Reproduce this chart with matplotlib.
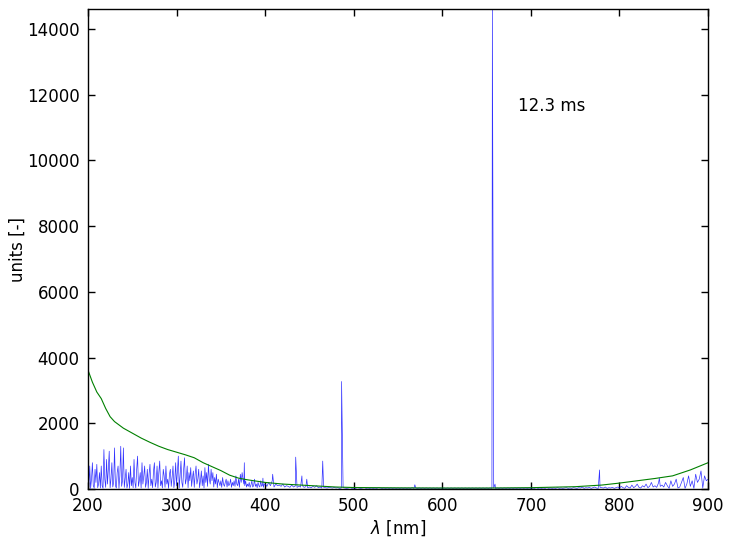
import numpy as np
import matplotlib
matplotlib.use("Agg")
import matplotlib.pyplot as plt

# Blue spectrum, part 1: 200-399 nm sampled every 1 nm
uv_start, uv_step = 200, 1
uv_vals = [
    1100, 50, 700, 20, 300, 800, 100, 30, 600, 200, 750, 40, 150, 500, 30, 700, 100, 20, 1200, 300,
    50, 900, 150, 600, 1150, 40, 300, 800, 60, 200, 1250, 100, 30, 500, 700, 20, 400, 1300, 80, 250,
    1250, 50, 300, 600, 30, 150, 500, 20, 700, 100, 350, 40, 900, 200, 30, 600, 1000, 80, 250, 500,
    30, 800, 150, 400, 700, 50, 200, 600, 20, 450, 750, 100, 300, 40, 550, 800, 60, 200, 700, 30,
    500, 850, 100, 250, 30, 600, 400, 50, 700, 150, 300, 20, 450, 600, 80, 350, 700, 40, 250, 800,
    100, 550, 1000, 30, 400, 850, 200, 50, 600, 950, 150, 300, 700, 40, 500, 250, 650, 80, 350, 550,
    50, 450, 700, 150, 300, 600, 40, 250, 550, 100, 400, 30, 650, 200, 500, 80, 750, 300, 150, 600,
    250, 500, 60, 350, 150, 450, 40, 300, 200, 100, 250, 50, 350, 150, 80, 200, 300, 60, 250, 100,
    150, 300, 50, 200, 100, 250, 80, 400, 150, 100, 300, 50, 450, 200, 500, 300, 150, 100, 250, 60,
    150, 80, 200, 50, 120, 250, 60, 100, 300, 80, 150, 40, 200, 100, 60, 250, 80, 120, 50, 150,
]

# Blue spectrum, part 2: 400-900 nm sampled every 2 nm
vis_start, vis_step = 400, 2
vis_vals = [
    150, 80, 200, 100, 250, 60, 150, 100, 120, 80, 150, 60, 100, 80, 50, 120, 60, 90, 50, 80, 60, 100, 50, 70, 40,
    60, 40, 80, 50, 100, 40, 60, 30, 50, 40, 30, 50, 40, 30, 50, 30, 40, 20, 30, 40, 30, 20, 30, 40, 20,
    30, 20, 40, 30, 20, 30, 40, 20, 30, 20, 30, 20, 30, 20, 40, 30, 20, 30, 20, 30, 20, 30, 20, 30, 20,
    30, 20, 30, 20, 30, 20, 30, 20, 40, 20, 30, 20, 30, 20, 30, 20, 30, 20, 30, 20, 30, 20, 30, 20, 30,
    20, 30, 20, 30, 20, 30, 20, 30, 20, 30, 20, 30, 20, 30, 20, 30, 20, 30, 20, 30, 20, 30, 20, 30, 20,
    30, 20, 30, 20, 30, 20, 30, 20, 30, 20, 30, 20, 30, 20, 30, 20, 30, 20, 30, 20, 30, 20, 30, 20, 30,
    20, 30, 20, 40, 20, 30, 20, 30, 20, 40, 20, 30, 20, 30, 20, 40, 20, 30, 20, 30, 40, 20, 30, 20, 40,
    30, 20, 40, 30, 60, 20, 40, 30, 50, 20, 40, 60, 30, 20, 50, 40, 30, 60, 20, 40, 30, 50, 20, 40, 60,
    30, 80, 40, 20, 100, 50, 30, 120, 40, 80, 150, 50, 30, 100, 60, 150, 40, 80, 200, 60, 100, 50, 180, 80, 120,
    60, 200, 100, 20, 250, 80, 150, 300, 30, 60, 200, 350, 20, 150, 400, 80, 250, 20, 450, 200, 300, 550, 30, 400, 250,
    300,
]

# Emission lines (wavelength nm, peak height)
line_wl = [376.5, 397.5, 408.5, 434.5, 441.5, 447, 465, 486.3, 569, 656.5, 659.5, 777.5, 845]
line_height = [800, 330, 450, 970, 400, 300, 850, 3270, 130, 14600, 150, 580, 330]

# Green continuum
cont_wl = [200, 205, 210, 215, 220, 225, 230, 240, 250, 260, 270, 280, 290, 300, 310, 320, 330, 340, 350,
           360, 370, 380, 390, 400, 420, 440, 460, 480, 500, 550, 600, 650, 700, 750, 780, 800, 820, 840,
           860, 880, 900]
cont_val = [3620, 3250, 2950, 2750, 2450, 2200, 2050, 1850, 1700, 1550, 1420, 1300, 1200, 1120, 1040, 950,
            800, 680, 560, 420, 330, 280, 240, 200, 150, 120, 90, 60, 45, 35, 30, 30, 40, 70, 120, 180, 250,
            320, 400, 580, 800]

uv_wl = uv_start + uv_step * np.arange(len(uv_vals))
vis_wl = vis_start + vis_step * np.arange(len(vis_vals))
wl_all = np.concatenate([uv_wl, vis_wl, line_wl]).astype(float)
val_all = np.concatenate([uv_vals, vis_vals, line_height]).astype(float)
order = np.argsort(wl_all, kind="stable")
wl_all = wl_all[order]
val_all = val_all[order]

fig = plt.figure(figsize=(7.33, 5.46), dpi=100)
ax = fig.add_axes([0.120, 0.1044, 0.846, 0.879])
ax.plot(wl_all, val_all, color="blue", lw=0.5, alpha=0.8)
ax.plot(cont_wl, cont_val, color="green", lw=0.8)
ax.set_xlim(200, 900)
ax.set_ylim(0, max(line_height))
ax.set_xticks(np.arange(200, 901, 100))
ax.set_yticks(np.arange(0, 14001, 2000))
ax.tick_params(direction="in", top=True, right=True, labelsize=12, length=5, width=1, pad=6)
for s in ax.spines.values():
    s.set_linewidth(1)
ax.set_xlabel(r"$\lambda$ [nm]", fontsize=12, labelpad=2)
ax.set_ylabel("units [-]", fontsize=12, labelpad=0)
ax.text(685, 11650, "12.3 ms", fontsize=12, va="center", ha="left")
fig.savefig("out.png", dpi=100)
